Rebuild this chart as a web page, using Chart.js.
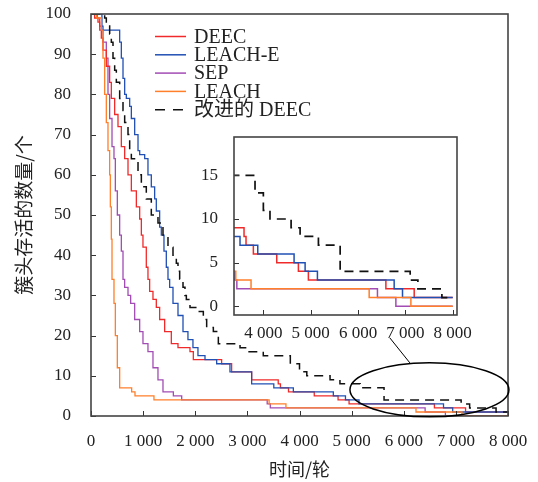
<!DOCTYPE html>
<html><head><meta charset="utf-8">
<script src="https://cdn.jsdelivr.net/npm/chart.js@4.4.0/dist/chart.umd.min.js"></script>
<style>
html,body{margin:0;padding:0;background:#fff;}
#wrap{position:relative;width:538px;height:482px;}
#main{position:absolute;left:0;top:0;}
#inset{position:absolute;left:195px;top:127px;}
</style></head><body>
<div id="wrap"><canvas id="main" width="538" height="482"></canvas><canvas id="inset" width="285" height="215"></canvas></div>
<script>
// ---- data: [round, alive cluster heads]; each point = value after a drop at that round ----
const seriesNames = ['DEEC', 'LEACH-E', 'SEP', 'LEACH', '改进的 DEEC'];
const deec = [[0,100],[70,99],[134,98],[166,97],[198,94],[230,91],[294,87],[358,83],[390,79],[454,75],[518,72],[582,67],[646,64],[710,60],[774,56],[870,52],[934,49],[966,45],[997,42],[1061,37],[1093,34],[1125,31],[1189,29],[1253,27],[1317,24],[1413,21],[1541,18],[1669,17],[1899,16],[1963,14],[2506,13],[2698,11],[3082,9],[3592,8],[3634,7],[3789,6],[4283,5],[4740,4],[4951,3],[6588,2],[7186,1],[8000,1]];
const leachE = [[0,100],[210,97],[230,96],[550,93],[582,89],[614,84],[646,80],[678,79],[742,77],[774,74],[838,70],[902,66],[934,65],[1030,64],[1093,60],[1157,57],[1221,54],[1253,51],[1317,47],[1349,45],[1400,41],[1445,37],[1477,34],[1509,32],[1573,28],[1669,25],[1765,21],[1860,19],[1956,17],[2052,15],[2187,14],[2411,13],[2666,11],[3082,8],[3507,7],[3882,6],[4649,5],[4882,4],[5142,3],[6763,2],[6939,1],[8000,1]];
const sep = [[0,100],[120,99],[166,96],[230,93],[294,89],[326,80],[358,74],[403,67],[441,64],[467,56],[505,50],[550,45],[582,41],[614,34],[646,32],[710,30],[761,28],[838,24],[934,21],[997,18],[1093,16],[1189,12],[1285,9],[1381,6],[1580,5],[1740,4],[3380,3],[3440,2],[6410,1],[6799,0],[8000,0]];
const leach = [[0,100],[108,99],[198,96],[230,89],[262,80],[294,73],[326,66],[358,60],[371,52],[390,44],[403,34],[441,28],[467,20],[505,12],[550,7],[780,6],[844,5],[1208,4],[3417,3],[3740,2],[6235,1],[7116,0],[8000,0]];
const improved = [[0,100],[262,99],[294,97],[358,95],[390,93],[422,89],[454,86],[486,83],[550,79],[614,76],[646,73],[710,70],[742,66],[774,64],[902,60],[966,57],[1061,54],[1157,50],[1285,48],[1381,45],[1477,42],[1573,40],[1637,38],[1669,36],[1701,34],[1765,32],[1803,30],[1829,29],[1899,27],[2059,26],[2155,24],[2219,22],[2347,21],[2443,18],[2859,17],[2987,16],[3305,15],[3824,13],[4000,11],[4140,10],[4586,9],[4776,8],[5163,7],[5622,4],[7101,3],[7264,2],[7771,1],[8000,1]];

const xTicks = [0,1000,2000,3000,4000,5000,6000,7000,8000];
const xTickLabels = ['0','1 000','2 000','3 000','4 000','5 000','6 000','7 000','8 000'];
const yTicks = [0,10,20,30,40,50,60,70,80,90,100];
const insetXTicks = [4000,5000,6000,7000,8000];
const insetXTickLabels = ['4 000','5 000','6 000','7 000','8 000'];
const insetYTicks = [0,5,10,15];

const SERIF = '"Liberation Serif","Times New Roman","Noto Sans CJK SC",serif';
const CJK = '"Noto Sans CJK SC","Liberation Serif",sans-serif';
const colors = ['#f02a2a', '#2150b4', '#a24cb4', '#ff7f2a', '#111111'];
const orders = [3, 2, 4, 1, 0];
const dashes = [[], [], [], [], [9, 6]];
const seriesData = [deec, leachE, sep, leach, improved];

function makeDatasets(width) {
  return seriesData.map((arr, i) => ({
    label: seriesNames[i],
    data: arr.map(([x, y]) => ({x, y})),
    borderColor: colors[i],
    borderWidth: i === 4 ? width + 0.2 : width,
    borderDash: dashes[i],
    stepped: 'before',
    pointRadius: 0,
    tension: 0,
    fill: false,
    order: orders[i]
  }));
}

const frame = {
  id: 'frame',
  beforeDraw(chart, args, o) {
    const {ctx, chartArea: a} = chart;
    ctx.save();
    ctx.fillStyle = '#fff';
    if (o.inset) ctx.fillRect(a.left, a.top, a.right - a.left, a.bottom - a.top);
    else ctx.fillRect(0, 0, chart.width, chart.height);
    ctx.restore();
  },
  afterDraw(chart, args, o) {
    const {ctx, chartArea: a, scales: {x, y}} = chart;
    ctx.save();
    ctx.strokeStyle = '#333';
    ctx.lineWidth = 1;
    ctx.beginPath();
    o.xTicks.forEach(v => { const p = Math.round(x.getPixelForValue(v)) + 0.5; ctx.moveTo(p, a.bottom); ctx.lineTo(p, a.bottom - 5); });
    o.yTicks.forEach(v => { const p = Math.round(y.getPixelForValue(v)) + 0.5; ctx.moveTo(a.left, p); ctx.lineTo(a.left + 5, p); });
    ctx.stroke();
    ctx.lineWidth = 1.6;
    ctx.strokeStyle = '#444';
    ctx.strokeRect(a.left, a.top, a.right - a.left, a.bottom - a.top);
    if (o.legend) {
      const x0 = 155, x1 = 186, tx = 194, y0 = 36.5, dy = 18.3;
      ctx.font = '20px ' + SERIF;
      ctx.textBaseline = 'middle';
      ctx.textAlign = 'left';
      chart.data.datasets.forEach((ds, i) => {
        const yy = y0 + i * dy;
        ctx.strokeStyle = ds.borderColor;
        ctx.lineWidth = 1.5;
        ctx.setLineDash(ds.borderDash.length ? [10, 8] : []);
        ctx.beginPath(); ctx.moveTo(x0, yy); ctx.lineTo(x1, yy); ctx.stroke();
        ctx.setLineDash([]);
        ctx.fillStyle = '#222';
        ctx.fillText(ds.label, tx, yy + 1);
      });
    }
    if (o.ellipse) {
      const e = o.ellipse;
      const cx = x.getPixelForValue(e.cx), cy = y.getPixelForValue(e.cy);
      ctx.strokeStyle = '#000';
      ctx.lineWidth = 1.5;
      ctx.beginPath();
      ctx.ellipse(cx, cy, e.rx, e.ry, 0, 0, Math.PI * 2);
      ctx.stroke();
      ctx.lineWidth = 1;
      ctx.beginPath();
      ctx.moveTo(x.getPixelForValue(e.l0[0]), y.getPixelForValue(e.l0[1]));
      ctx.lineTo(x.getPixelForValue(e.l1[0]), y.getPixelForValue(e.l1[1]));
      ctx.stroke();
    }
    ctx.restore();
  }
};

const tickFont = {family: SERIF, size: 17};
const noPadY = s => { s.paddingTop = 0; s.paddingBottom = 0; };
const noPadX = s => { s.paddingLeft = 0; s.paddingRight = 0; };

new Chart(document.getElementById('main'), {
  type: 'line',
  data: {datasets: makeDatasets(1.3)},
  options: {
    responsive: false, animation: false, devicePixelRatio: 1,
    layout: {padding: {top: 14, right: 30, left: 0, bottom: 0}},
    plugins: {
      legend: {display: false}, tooltip: {enabled: false},
      frame: {xTicks, yTicks, legend: true,
        ellipse: {cx: 6493, cy: 6.5, rx: 79.5, ry: 27, l0: [5735, 19.4], l1: [6118, 13.2]}}
    },
    scales: {
      x: {
        type: 'linear', min: 0, max: 8000,
        afterBuildTicks: s => { s.ticks = xTicks.map(v => ({value: v})); },
        ticks: {callback: v => xTickLabels[xTicks.indexOf(v)], font: tickFont, color: '#222', padding: 7, maxRotation: 0, autoSkip: false},
        grid: {display: false}, border: {display: false},
        title: {display: true, text: '时间/轮', font: {family: CJK, size: 18}, color: '#222', padding: {top: 0, bottom: 2}},
        afterFit: s => { s.height = 66; noPadX(s); }
      },
      y: {
        type: 'linear', min: 0, max: 100,
        afterBuildTicks: s => { s.ticks = yTicks.map(v => ({value: v})); },
        ticks: {font: tickFont, color: '#222', padding: 12, autoSkip: false},
        grid: {display: false}, border: {display: false},
        title: {display: true, text: '簇头存活的数量/个', font: {family: CJK, size: 19}, color: '#222', padding: {top: 12, bottom: 0}},
        afterFit: s => { s.width = 91; noPadY(s); }
      }
    }
  },
  plugins: [frame]
});

new Chart(document.getElementById('inset'), {
  type: 'line',
  data: {datasets: makeDatasets(1.5)},
  options: {
    responsive: false, animation: false, devicePixelRatio: 1,
    layout: {padding: {top: 10, right: 23, left: 0, bottom: 0}},
    plugins: {legend: {display: false}, tooltip: {enabled: false},
      frame: {xTicks: insetXTicks, yTicks: insetYTicks, inset: true}},
    scales: {
      x: {
        type: 'linear', min: 3380, max: 8090,
        afterBuildTicks: s => { s.ticks = insetXTicks.map(v => ({value: v})); },
        ticks: {callback: v => insetXTickLabels[insetXTicks.indexOf(v)], font: tickFont, color: '#222', padding: 0, maxRotation: 0, autoSkip: false},
        grid: {display: false}, border: {display: false},
        afterFit: s => { s.height = 27; noPadX(s); }
      },
      y: {
        type: 'linear', min: -1, max: 19.4,
        afterBuildTicks: s => { s.ticks = insetYTicks.map(v => ({value: v})); },
        ticks: {font: tickFont, color: '#222', padding: 8, autoSkip: false},
        grid: {display: false}, border: {display: false},
        afterFit: s => { s.width = 39; noPadY(s); }
      }
    }
  },
  plugins: [frame]
});
</script>
</body></html>
